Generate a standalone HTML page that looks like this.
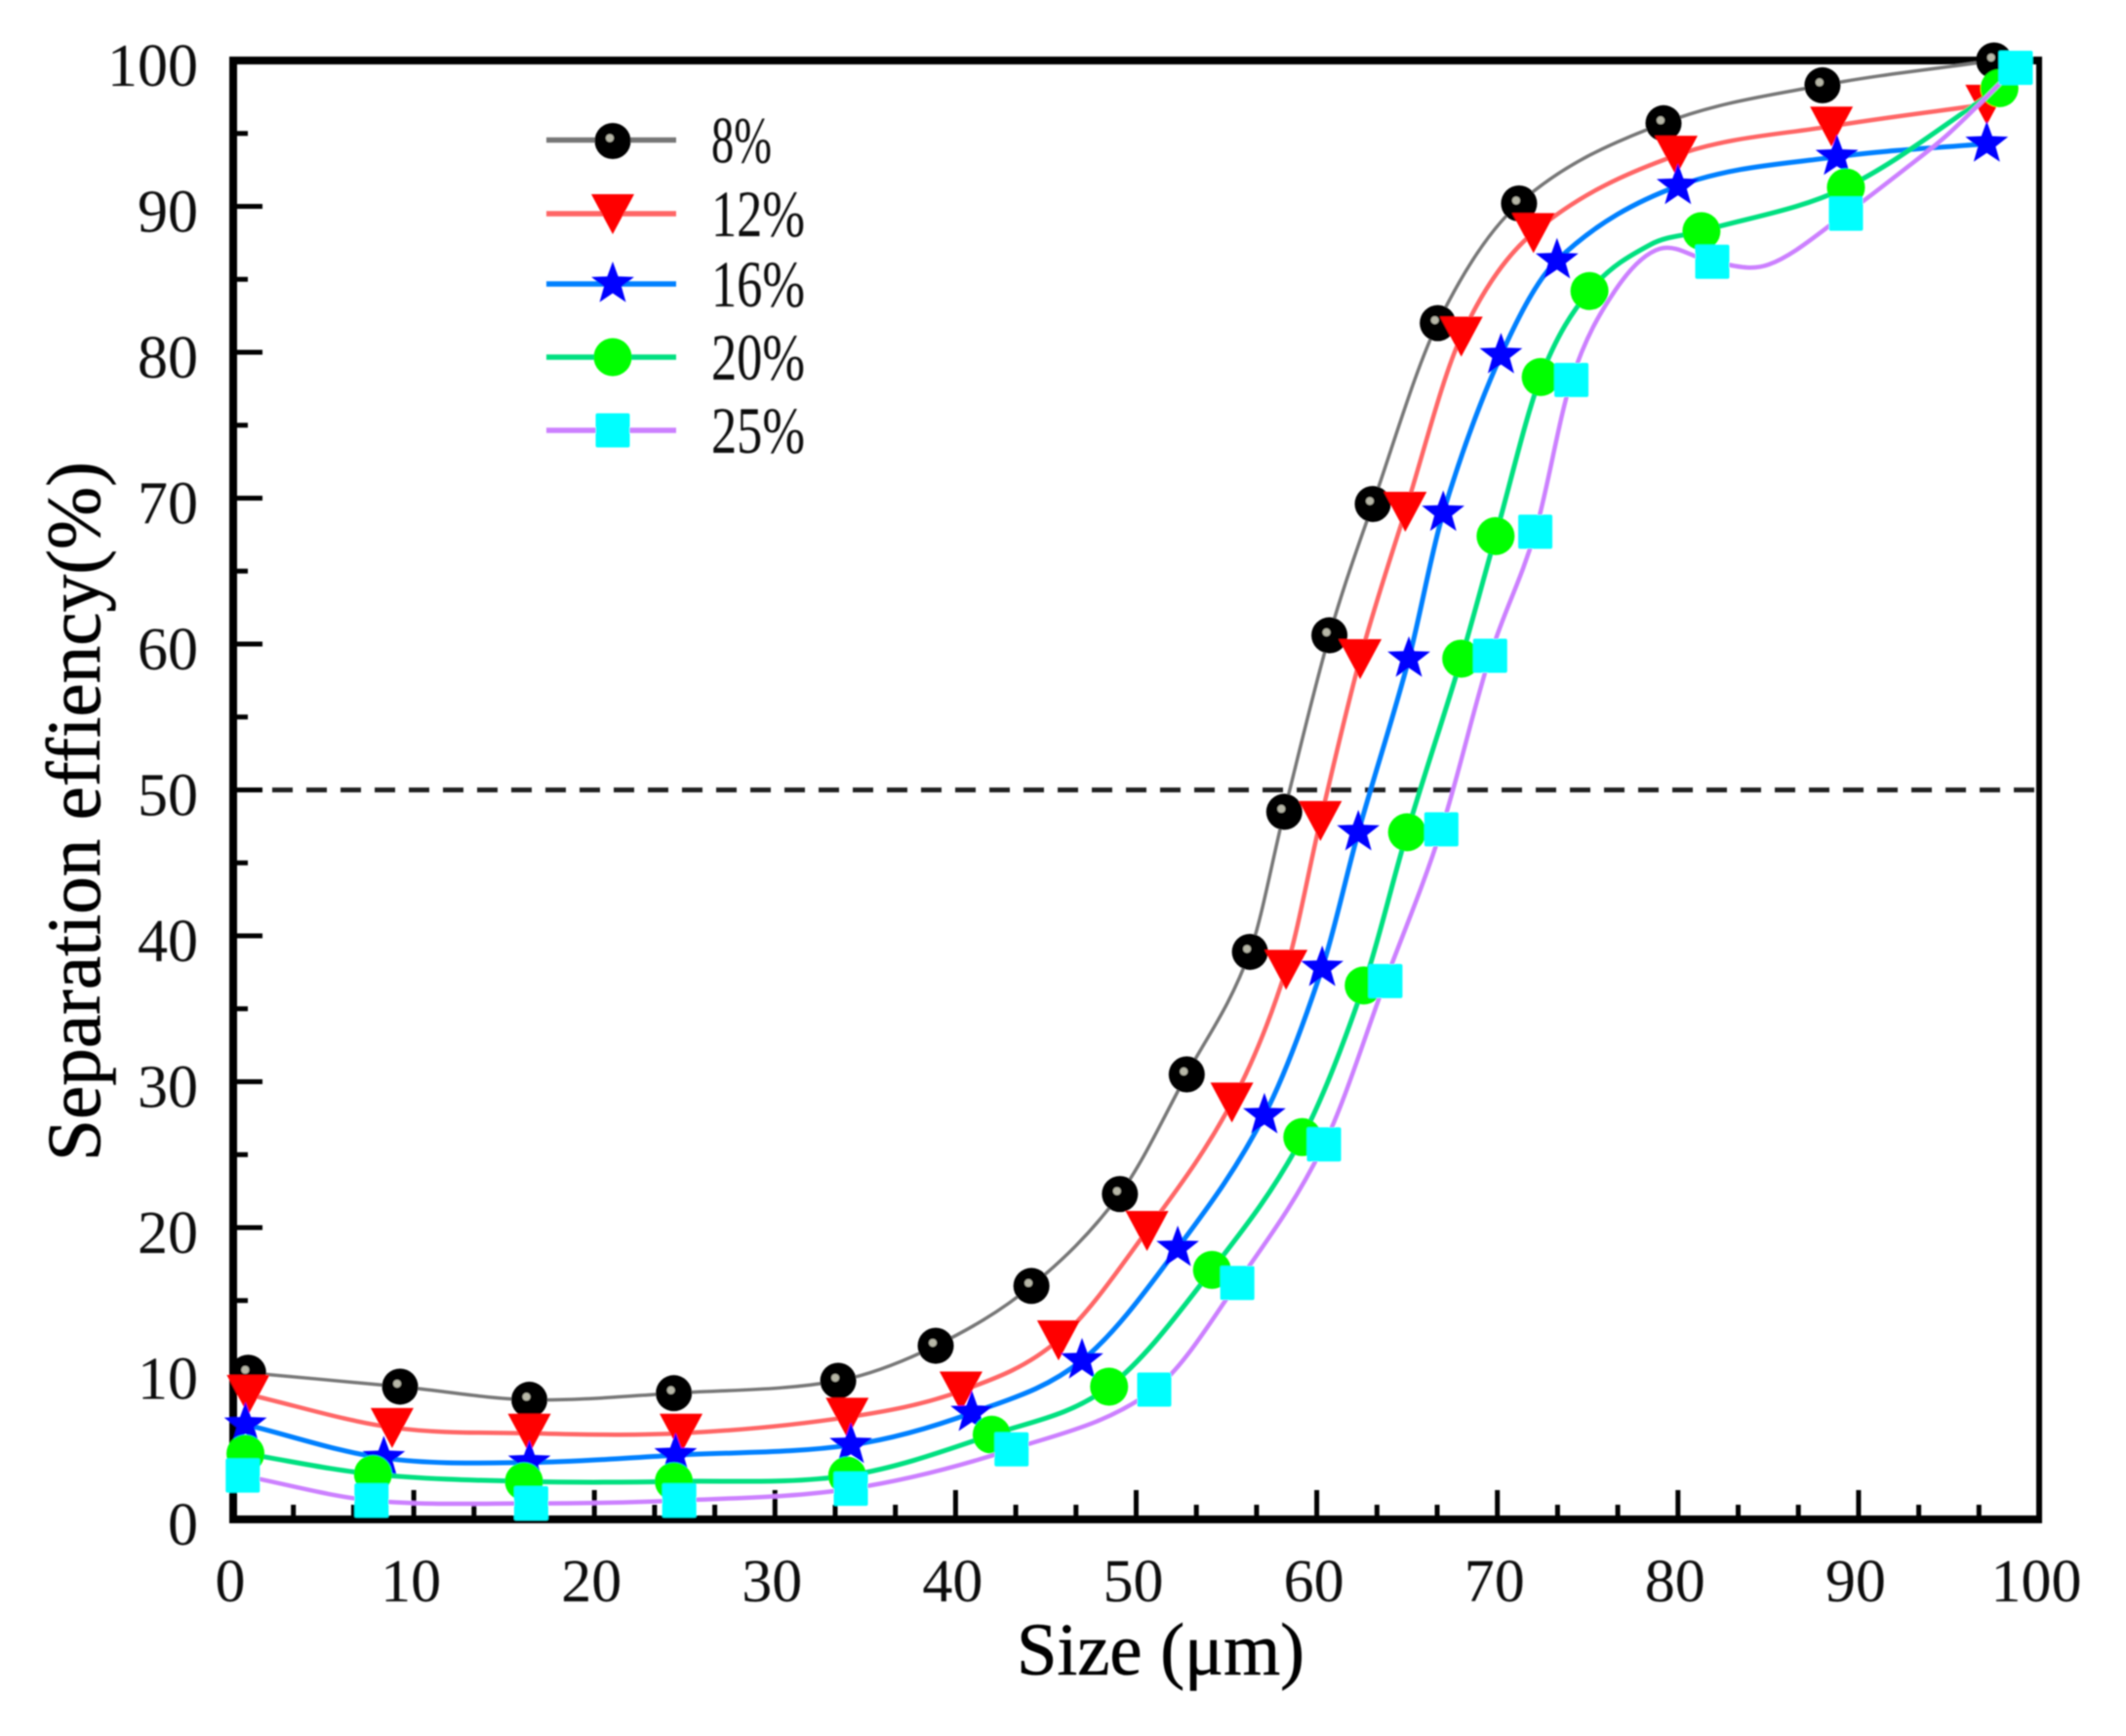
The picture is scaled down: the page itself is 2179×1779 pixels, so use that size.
<!DOCTYPE html>
<html lang="en">
<head>
<meta charset="utf-8">
<title>Separation efficiency vs size</title>
<style>
html,body{margin:0;padding:0;background:#fff;}
svg{display:block;}
text{font-family:"Liberation Serif",serif;}
</style>
</head>
<body>
<svg id="chart" xmlns="http://www.w3.org/2000/svg" width="2179" height="1779" viewBox="0 0 2179 1779">
<defs><filter id="soft" x="-2%" y="-2%" width="104%" height="104%"><feGaussianBlur stdDeviation="0.9"/></filter></defs>
<rect width="2179" height="1779" fill="#fff"/>
<g id="root" filter="url(#soft)"></g>
</svg>
<script>
const xTickValues = [0,10,20,30,40,50,60,70,80,90,100];
const yTickValues = [0,10,20,30,40,50,60,70,80,90,100];
const referenceLevel = [50];

const labels = ['8%','12%','16%','20%','25%'];

const x8  = [0.83,9.24,16.4,24.4,33.5,38.9,44.2,49.1,52.8,56.3,58.2,60.7,63.1,66.7,71.2,79.2,88,97.5];
const y8  = [10.05,9.1,8.2,8.65,9.5,11.9,16,22.3,30.5,38.9,48.5,60.6,69.6,82,90.2,95.7,98.3,100];
const x12 = [0.83,8.8,16.4,24.8,34,40.3,45.7,50.6,55.3,58.3,60.2,62.4,64.9,68,72,79.9,88.5,97.1];
const y12 = [8.56,6.3,5.9,5.9,7,8.8,12.3,19.8,28.6,37.7,47.9,59,69.1,81.1,88.2,93.5,95.5,97];
const x16 = [0.68,8.34,16.4,24.5,34.2,40.9,47,52.3,57.1,60.3,62.3,65.1,67,70.2,73.3,80,88.8,97.1];
const y16 = [6.5,4.2,3.9,4.4,5.1,7.3,10.9,18.6,27.7,37.8,47.1,59,69,79.8,86.3,91.4,93.4,94.3];
const x20 = [0.68,7.74,16.1,24.4,34,42,48.5,54.2,59.2,62.6,65,68,69.9,72.4,75.1,81.3,89.3,97.8];
const y20 = [4.5,3.1,2.6,2.6,3,5.8,9.1,17.1,26.2,36.6,47.1,59,67.4,78.3,84.2,88.3,91.3,98.1];
const x25 = [0.53,7.66,16.5,24.7,34.2,43.1,51,55.6,60.4,63.8,66.9,69.6,72.1,74.1,81.9,89.3,98.7];
const y25 = [3,1.3,1.1,1.3,2.1,4.8,8.9,16.2,25.7,36.9,47.3,59.2,67.7,78.1,86.2,89.5,99.5];

/* curve-only knots (the original smoothing passes through these between markers) */
const curveX20 = [78.5];
const curveY20 = [87.4];
const curveX25 = [76.5,79,85,92.5,95];
const curveY25 = [84.2,87.1,86,92.5,95];

const NS = 'http://www.w3.org/2000/svg';
const root = document.getElementById('root');
const PLOT = {l:239, r:2090, t:62, b:1557};
function sx(v){ return PLOT.l + (v/100)*(PLOT.r-PLOT.l); }
function sy(v){ return PLOT.b - (v/100)*(PLOT.b-PLOT.t); }

function el(tag, attrs, parent){
  const e = document.createElementNS(NS, tag);
  for (const k in attrs) e.setAttribute(k, attrs[k]);
  (parent||root).appendChild(e);
  return e;
}

function splinePath(xs, ys){
  const idx = xs.map((_, i) => i).sort((a,b) => xs[a]-xs[b]);
  const X = idx.map(i => xs[i]);
  const Y = idx.map(i => ys[i]);
  const n = X.length;
  const m = [];
  for (let i = 0; i < n; i++){
    if (i === 0) m.push((Y[1]-Y[0])/(X[1]-X[0]));
    else if (i === n-1) m.push((Y[n-1]-Y[n-2])/(X[n-1]-X[n-2]));
    else m.push((Y[i+1]-Y[i-1])/(X[i+1]-X[i-1]));
  }
  let d = 'M' + sx(X[0]).toFixed(1) + ' ' + sy(Y[0]).toFixed(1);
  for (let i = 0; i < n-1; i++){
    const h = X[i+1]-X[i];
    const c1x = X[i]+h/3, c1y = Y[i]+m[i]*h/3;
    const c2x = X[i+1]-h/3, c2y = Y[i+1]-m[i+1]*h/3;
    d += 'C' + sx(c1x).toFixed(1) + ' ' + sy(c1y).toFixed(1) + ' ' +
         sx(c2x).toFixed(1) + ' ' + sy(c2y).toFixed(1) + ' ' +
         sx(X[i+1]).toFixed(1) + ' ' + sy(Y[i+1]).toFixed(1);
  }
  return d;
}

function drawMarker(kind, cx, cy, parent){
  let m;
  if (kind === 'ball'){
    m = el('g', {}, parent);
    el('circle', {cx:cx, cy:cy, r:18.5, fill:'#000'}, m);
    el('circle', {cx:cx-3, cy:cy-3, r:4, fill:'#b8b8a8'}, m);
  } else if (kind === 'down'){
    const pts = [[cx-22,cy-20],[cx+22,cy-20],[cx,cy+21]].map(p => p.join(',')).join(' ');
    m = el('polygon', {points:pts, fill:'#ff0000'}, parent);
  } else if (kind === 'star'){
    const pts = [];
    for (let i = 0; i < 10; i++){
      const r = i%2 ? 9.5 : 23;
      const a = -Math.PI/2 + i*Math.PI/5;
      pts.push((cx+r*Math.cos(a)).toFixed(1)+','+(cy+r*Math.sin(a)).toFixed(1));
    }
    m = el('polygon', {points:pts.join(' '), fill:'#0000ff'}, parent);
  } else if (kind === 'disc'){
    m = el('circle', {cx:cx, cy:cy, r:19.5, fill:'#00ff00'}, parent);
  } else {
    m = el('rect', {x:cx-17.5, y:cy-17.5, width:35, height:35, rx:2, fill:'#00ffff'}, parent);
  }
  return m;
}

/* axes frame */
const axisLeft = el('line', {x1:PLOT.l, x2:PLOT.l, y1:PLOT.t-4, y2:PLOT.b+4, stroke:'#000', 'stroke-width':8});


const axisBottom = el('line', {x1:PLOT.l-4, x2:PLOT.r+3, y1:PLOT.b, y2:PLOT.b, stroke:'#000', 'stroke-width':8});


const axisTop = el('line', {x1:PLOT.l-4, x2:PLOT.r+3, y1:PLOT.t, y2:PLOT.t, stroke:'#000', 'stroke-width':8});


const axisRight = el('line', {x1:PLOT.r, x2:PLOT.r, y1:PLOT.t-4, y2:PLOT.b+4, stroke:'#000', 'stroke-width':6});



/* x ticks */
xTickValues.forEach((v, i) => {
  if (v > 0 && v < 100){
    const t = el('line', {x1:sx(v), x2:sx(v), y1:PLOT.b, y2:PLOT.b-30, stroke:'#000', 'stroke-width':5});
    
    
  }
  if (i < xTickValues.length-1){
    const step = xTickValues[i+1]-v;
    [1/3, 2/3].forEach(f => {
      const mt = el('line', {x1:sx(v+step*f), x2:sx(v+step*f), y1:PLOT.b, y2:PLOT.b-15, stroke:'#000', 'stroke-width':5});
      
      
    });
  }
  const lb = el('text', {x:sx(v)-3, y:1641, 'text-anchor':'middle', 'font-size':62, fill:'#111'});
  lb.textContent = v;
  
  
});

/* y ticks */
yTickValues.forEach((v, i) => {
  if (v > 0 && v < 100){
    const t = el('line', {x1:PLOT.l, x2:PLOT.l+30, y1:sy(v), y2:sy(v), stroke:'#000', 'stroke-width':5});
    
    
  }
  if (i < yTickValues.length-1){
    const mid = (v+yTickValues[i+1])/2;
    const mt = el('line', {x1:PLOT.l, x2:PLOT.l+15, y1:sy(mid), y2:sy(mid), stroke:'#000', 'stroke-width':5});
    
    
  }
  const lb = el('text', {x:203, y:sy(v)+26, 'text-anchor':'end', 'font-size':62, fill:'#111'});
  lb.textContent = v;
  
  
});

/* 50% reference line */
const refLine = el('line', {x1:PLOT.l+40, x2:PLOT.r, y1:sy(referenceLevel[0]), y2:sy(referenceLevel[0]), stroke:'#222', 'stroke-width':5, 'stroke-dasharray':'21 14'});



/* series */
const seriesDefs = [
  {key:'8',  xs:x8,  ys:y8,  cx:[],       cy:[],       color:'#777777', w:3.5, marker:'ball'},
  {key:'12', xs:x12, ys:y12, cx:[],       cy:[],       color:'#ff6666', w:4.5, marker:'down'},
  {key:'16', xs:x16, ys:y16, cx:[],       cy:[],       color:'#0080ff', w:5,   marker:'star'},
  {key:'20', xs:x20, ys:y20, cx:curveX20, cy:curveY20, color:'#00e080', w:5,   marker:'disc'},
  {key:'25', xs:x25, ys:y25, cx:curveX25, cy:curveY25, color:'#cc80ff', w:4.5, marker:'sq'}
];

seriesDefs.forEach(s => {
  const g = el('g', {});
  
  
  const path = el('path', {d:splinePath(s.xs.concat(s.cx), s.ys.concat(s.cy)), fill:'none', stroke:s.color, 'stroke-width':s.w}, g);
  
  
  s.xs.forEach((x, i) => {
    const mk = drawMarker(s.marker, sx(x), sy(s.ys[i]), g);
    
    
  });
});

/* legend */
const legendRowY = [143.5, 219, 291, 366, 441];
const legendTextW = [62, 96, 96, 96, 96];
const legend = el('g', {});


seriesDefs.forEach((s, i) => {
  const row = el('g', {}, legend);
  
  
  el('line', {x1:560, x2:693, y1:legendRowY[i], y2:legendRowY[i], stroke:s.color, 'stroke-width':5.5}, row);
  drawMarker(s.marker, 628, legendRowY[i]+(i===0?1:0), row);
  const t = el('text', {x:729, y:legendRowY[i]+23, 'font-size':68, fill:'#111', textLength:legendTextW[i], lengthAdjust:'spacingAndGlyphs'}, row);
  t.textContent = labels[i];
  
  
});

/* axis titles */
const xTitle = el('text', {x:1042, y:1716, 'font-size':76, fill:'#000', stroke:'#000', 'stroke-width':0.6, textLength:295, lengthAdjust:'spacingAndGlyphs'});
xTitle.textContent = 'Size (\u03BCm)';



const yTitle = el('text', {x:0, y:0, 'font-size':78, fill:'#000', stroke:'#000', 'stroke-width':0.6, textLength:717, lengthAdjust:'spacingAndGlyphs', transform:'translate(102,1190) rotate(-90)'});
yTitle.textContent = 'Separation effiency(%)';


</script>
</body>
</html>
